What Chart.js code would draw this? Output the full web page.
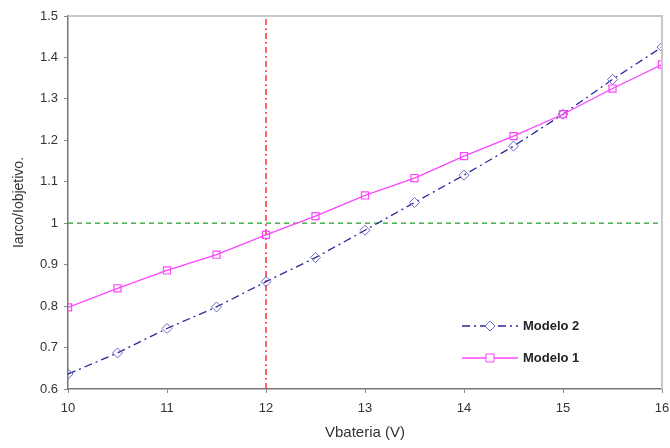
<!DOCTYPE html>
<html><head><meta charset="utf-8">
<script src="https://cdn.jsdelivr.net/npm/chart.js@4/dist/chart.umd.min.js"></script>
<style>html,body{margin:0;padding:0;background:#fff}#wrap{width:670px;height:448px}</style>
</head><body><div id="wrap"><canvas id="c" width="670" height="448"></canvas></div>
<script>
const vbateria = [10, 10.5, 11, 11.5, 12, 12.5, 13, 13.5, 14, 14.5, 15, 15.5, 16];
const modelo1 = [0.797, 0.843, 0.886, 0.924, 0.972, 1.017, 1.067, 1.109, 1.162, 1.210, 1.263, 1.325, 1.383];
const modelo2 = [0.636, 0.687, 0.746, 0.798, 0.859, 0.917, 0.983, 1.050, 1.116, 1.186, 1.263, 1.347, 1.425];
const refX = 12;
const refY = 1;
const xTicks = [10, 11, 12, 13, 14, 15, 16];
const yTicks = [0.6, 0.7, 0.8, 0.9, 1, 1.1, 1.2, 1.3, 1.4, 1.5];
const seriesNames = ['Modelo 2', 'Modelo 1'];

const toPts = (xs, ys) => xs.map((x, i) => ({x, y: ys[i]}));
const FONT = '"Liberation Sans", Arial, sans-serif';

const legendPlugin = {
  id: 'inlegend',
  afterDatasetsDraw(chart) {
    const ctx = chart.ctx;
    const ca = chart.chartArea;
    ctx.save();
    ctx.strokeStyle = '#c8c8c8';
    ctx.lineWidth = 2;
    ctx.beginPath();
    ctx.moveTo(ca.left, ca.top); ctx.lineTo(ca.right, ca.top); ctx.lineTo(ca.right, ca.bottom);
    ctx.stroke();
    const items = [
      {ds: chart.data.datasets[0], y: 326},
      {ds: chart.data.datasets[1], y: 358}
    ];
    items.forEach(it => {
      const ds = it.ds;
      ctx.strokeStyle = ds.borderColor;
      ctx.lineWidth = ds.borderWidth;
      ctx.setLineDash(ds.borderDash || []);
      ctx.beginPath(); ctx.moveTo(462, it.y); ctx.lineTo(518, it.y); ctx.stroke();
      ctx.setLineDash([]);
      ctx.strokeStyle = ds.pointBorderColor;
      ctx.lineWidth = 1;
      const mx = 490, r = ds.pointRadius;
      ctx.fillStyle = '#fff';
      ctx.beginPath();
      if (ds.pointStyle === 'rectRot') {
        ctx.moveTo(mx, it.y - r); ctx.lineTo(mx + r, it.y); ctx.lineTo(mx, it.y + r); ctx.lineTo(mx - r, it.y); ctx.closePath();
      } else {
        ctx.rect(mx - r * 0.8, it.y - r * 0.8, r * 1.6, r * 1.6);
      }
      ctx.fill(); ctx.stroke();
      ctx.fillStyle = '#222';
      ctx.font = 'bold 13px ' + FONT;
      ctx.textBaseline = 'middle';
      ctx.fillText(ds.label, 523, it.y);
    });
    ctx.restore();
  }
};

new Chart(document.getElementById('c'), {
  type: 'scatter',
  data: {
    datasets: [
      {label: seriesNames[0], data: toPts(vbateria, modelo2), showLine: true,
       borderColor: '#2a2a9a', borderWidth: 1.3, borderDash: [8, 4, 2, 4],
       pointStyle: 'rectRot', pointRadius: 5, pointBorderColor: '#6a6ac0', pointBackgroundColor: 'rgba(255,255,255,0)', pointBorderWidth: 1, order: 2},
      {label: seriesNames[1], data: toPts(vbateria, modelo1), showLine: true,
       borderColor: '#ff44ff', borderWidth: 1.3,
       pointStyle: 'rect', pointRadius: 5, pointBorderColor: '#ff44ff', pointBackgroundColor: 'rgba(255,255,255,0)', pointBorderWidth: 1.2, order: 1},
      {label: 'ref x', data: [{x: refX, y: 0.6}, {x: refX, y: 1.5}], showLine: true,
       borderColor: '#ff3030', borderWidth: 1.5, borderDash: [6, 3, 2, 3], pointRadius: 0, order: 3},
      {label: 'ref y', data: [{x: 10, y: refY}, {x: 16, y: refY}], showLine: true,
       borderColor: '#22a022', borderWidth: 1.3, borderDash: [5, 4], pointRadius: 0, order: 3}
    ]
  },
  options: {
    responsive: false, animation: false,
    layout: {padding: {top: 16, right: 8, left: 0, bottom: 0}},
    plugins: {legend: {display: false}, tooltip: {enabled: false}},
    scales: {
      x: {
        type: 'linear', min: 10, max: 16,
        afterBuildTicks: s => { s.ticks = xTicks.map(v => ({value: v})); },
        afterFit: s => { s.height = 59; s.paddingRight = 0; s.paddingLeft = 0; },
        grid: {drawOnChartArea: false, drawTicks: true, tickLength: 4, color: '#888'},
        border: {color: '#777', width: 1.5},
        ticks: {color: '#333', padding: 8, maxRotation: 0, font: {family: FONT, size: 13}},
        title: {display: true, text: 'Vbateria (V)', color: '#333', padding: {top: 4, bottom: 6}, font: {family: FONT, size: 15}}
      },
      y: {
        type: 'linear', min: 0.6, max: 1.5,
        afterBuildTicks: s => { s.ticks = yTicks.map(v => ({value: v})); },
        afterFit: s => { s.width = 68; s.paddingTop = 0; s.paddingBottom = 0; },
        grid: {drawOnChartArea: false, drawTicks: true, tickLength: 4, color: '#888'},
        border: {color: '#777', width: 1.5},
        ticks: {color: '#333', padding: 6, font: {family: FONT, size: 13},
                callback: v => String(Math.round(v * 10) / 10)},
        title: {display: true, text: 'Iarco/Iobjetivo.', color: '#333', padding: {top: 11, bottom: 0}, font: {family: FONT, size: 14}}
      }
    }
  },
  plugins: [legendPlugin]
});
</script></body></html>
